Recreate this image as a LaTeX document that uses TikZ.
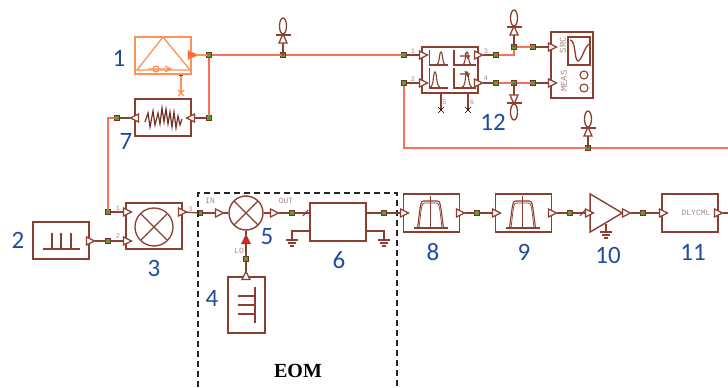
\documentclass[tikz,border=0pt]{standalone}
\usepackage{fontspec}
\setmainfont{Liberation Serif}
\newfontfamily\numfont{Carlito}
\newfontfamily\labfont{Liberation Mono}
\usetikzlibrary{shapes.geometric}
\definecolor{brn}{HTML}{8A3F30}
\definecolor{lin}{HTML}{FB6F58}
\definecolor{org}{HTML}{FB9257}
\definecolor{grn}{HTML}{5E9A35}
\definecolor{blu}{HTML}{1F4C9C}
\definecolor{lab}{HTML}{A98A86}
\tikzset{
 wire/.style={draw=brn,line width=1.3pt},
 fibre/.style={draw=lin,line width=1.7pt},
 glyph/.style={draw=brn,line width=1.1pt},
 oglyph/.style={draw=org,line width=1.3pt},
 block/.style={draw=brn,line width=1.4pt,fill=white,minimum width=56pt,minimum height=37pt,inner sep=0pt,outer sep=0pt},
 jn/.style={rectangle,draw=brn!80!black,line width=0.7pt,fill=grn,minimum size=5pt,inner sep=0pt,outer sep=0pt},
 port/.style={isosceles triangle,isosceles triangle stretches,draw=brn,line width=1.2pt,fill=white,minimum height=8pt,minimum width=8pt,inner sep=0pt,outer sep=0pt},
 num/.style={text=blu,font=\numfont\fontsize{25}{25}\selectfont,inner sep=0pt},
 tiny/.style={text=lab,font=\labfont\fontsize{7}{7}\selectfont,inner sep=0pt},
 probe/.pic={
  \draw[wire] (0,0)--(0,-12);
  \draw[wire,fill=white] (-4,-12)--(4,-12)--(0,-21)--cycle;
  \draw[wire,line width=1.8pt] (-7.5,-20)--(7.5,-20);
  \draw[wire,fill=white] (0,-29) ellipse (3.5 and 8);
 },
 xmark/.pic={\draw[#1] (-3,-3)--(3,3) (-3,3)--(3,-3);},
 xmark/.default={glyph},
 gnd/.pic={\draw[wire,line width=1.1pt] (-6,0)--(6,0) (-4,3)--(4,3) (-2,6)--(2,6);},
 filterglyph/.pic={
  \draw[glyph] (-18,15)--(16,15) (-1,-17)--(-1,15);
  \draw[glyph] (-14,15) .. controls (-11,-8) and (-11,-12) .. (-8,-12) -- (6,-12) .. controls (9,-12) and (9,-8) .. (12,15);
  \draw[glyph,line width=0.7pt] (-12.5,15) .. controls (-10,-6) and (-10,-10) .. (-7,-10) -- (5,-10) .. controls (8,-10) and (8,-6) .. (10.5,15);
 }
}
\begin{document}
\begin{tikzpicture}[x=1pt,y=-1pt]
\useasboundingbox (0,0) rectangle (728,388);
% junctions
\node[jn] (ja) at (209,55) {};
\node[jn] (jb) at (283,55) {};
\node[jn] (jc) at (209,118) {};
\node[jn] (jd) at (117,118) {};
\node[jn] (je) at (404,55) {};
\node[jn] (jf) at (404,83) {};
\node[jn] (jg) at (496,55) {};
\node[jn] (jh) at (496,83) {};
\node[jn] (ji) at (514,47) {};
\node[jn] (jj) at (533,47) {};
\node[jn] (jk) at (514,83) {};
\node[jn] (jl) at (533,83) {};
\node[jn] (jm) at (588,148) {};
\node[jn] (jn1) at (108,212) {};
\node[jn] (jn2) at (108,241) {};
\node[jn] (jo) at (200,213) {};
\node[jn] (jp) at (292,213) {};
\node[jn] (jq) at (246,259) {};
\node[jn] (jr) at (384,213) {};
\node[jn] (js) at (477,213) {};
\node[jn] (jt) at (570,213) {};
\node[jn] (ju) at (643,213) {};
\node[jn,minimum size=3pt] (jv) at (181,74) {};
\coordinate (xa) at (181,93);
\coordinate (xb) at (441,110);
\coordinate (xc) at (468,110);
\coordinate (rightend) at (728,148);
\coordinate (outend) at (728,213);
\coordinate (gl) at (292,231);
\coordinate (gr) at (384,231);
\coordinate (gampa) at (606,224);
\coordinate (gampb) at (606,232);
% fibre connectors
\draw[fibre] (ja)--(jb);
\draw[fibre] (jb)--(je);
\draw[fibre] (ja)--(jc);
\draw[fibre] (jd)-|(jn1);
\draw[fibre] (jg)-|(ji);
\draw[fibre] (ji)--(jj);
\draw[fibre] (jh)--(jk);
\draw[fibre] (jk)--(jl);
\draw[fibre] (jf)|-(jm);
\draw[fibre] (jm)--(rightend);
% probes
\pic at (jb) {probe};
\pic at (ji) {probe};
\pic at (jm) {probe};
\pic[yscale=-1] at (jk) {probe};
% EOM
\node[draw=black!85,line width=1.2pt,dashed,dash pattern=on 6pt off 4pt,minimum width=199pt,minimum height=204pt,inner sep=0pt] (eom) at (297.5,295) {};
\node[font=\bfseries\fontsize{20}{20}\selectfont,inner sep=0pt] (eomt) at (298,371) {EOM};
% blocks
\node[block,draw=org] (b1) at (163,55.5) {};
\node[block] (b7) at (163,117.5) {};
\node[block,minimum height=46pt] (b12) at (450,70) {};
\node[block,minimum width=42pt,minimum height=66pt] (b13) at (572,65) {};
\node[block] (b2) at (61,240.5) {};
\node[block,minimum height=46pt] (b3) at (154,226) {};
\node[draw=brn,line width=1.4pt,fill=white,circle,minimum size=34pt,inner sep=0pt] (b5) at (246,213) {};
\node[block,minimum height=38pt] (b6) at (338,222) {};
\node[block,minimum width=37pt,minimum height=56pt] (b4) at (246.5,305) {};
\node[block,minimum height=38pt] (b8) at (431.5,213) {};
\node[block,minimum height=38pt] (b9) at (523.5,213) {};
\node[draw=brn,line width=1.4pt,fill=white,isosceles triangle,isosceles triangle stretches,minimum height=32pt,minimum width=38pt,inner sep=0pt,outer sep=0pt] (b10) at (601,213) {};
\node[block,minimum height=38pt] (b11) at (690,213) {};
% ports
\node[port] (p7i) at (192,118) [shape border rotate=180] {};
\node[port] (p7o) at (136,118) [shape border rotate=180] {};
\node[port] (p12a) at (422,55) {};
\node[port] (p12b) at (422,83) {};
\node[port] (p12c) at (477,55) {};
\node[port] (p12d) at (477,83) {};
\node[port] (p13a) at (551,47) {};
\node[port] (p13b) at (551,83) {};
\node[port] (p2o) at (89,241) {};
\node[port] (p3a) at (126,212) {};
\node[port] (p3b) at (126,241) {};
\node[port] (p3c) at (181,212) {};
\node[port] (p5i) at (218,213) {};
\node[port] (p5o) at (273,213) {};
\node[port] (p4o) at (246,277) [shape border rotate=90] {};
\node[port,fill=red!75!orange] (p5l) at (246,241) [shape border rotate=90] {};
\node[port] (p8i) at (403,213) {};
\node[port] (p8o) at (459,213) {};
\node[port] (p9i) at (495,213) {};
\node[port] (p9o) at (551,213) {};
\node[port] (p10i) at (588,213) {};
\node[port] (p10o) at (625,213) {};
\node[port] (p11i) at (662,213) {};
\node[port] (p11o) at (717,213) {};
\node[isosceles triangle,isosceles triangle stretches,draw=org,fill=org!70!red,line width=0.8pt,minimum height=10pt,minimum width=9pt,inner sep=0pt,outer sep=0pt] (p1o) at (191,55) {};
% wires
\draw[fibre,draw=org] (p1o)--(ja);
\draw[wire] (jc)--(p7i);
\draw[wire] (jd)--(p7o);
\draw[wire] (je)--(p12a);
\draw[wire] (jf)--(p12b);
\draw[wire] (p12c)--(jg);
\draw[wire] (p12d)--(jh);
\draw[wire] (jj)--(p13a);
\draw[wire] (jl)--(p13b);
\draw[wire] (p2o)--(jn2);
\draw[wire] (jn2)--(p3b);
\draw[wire] (jn1)--(p3a);
\draw[wire] (p3c)--(jo);
\draw[wire] (jo)--(p5i);
\draw[wire] (p5i)--(b5);
\draw[wire] (b5)--(p5o);
\draw[wire] (p5o)--(jp);
\draw[wire] (jp)--(b6.west|-jp);
\draw[wire] (b6.east|-jr)--(jr);
\draw[wire] (jr)--(p8i);
\draw[wire] (p8o)--(js);
\draw[wire] (js)--(p9i);
\draw[wire] (p9o)--(jt);
\draw[wire] (jt)--(p10i);
\draw[wire] (p10o)--(ju);
\draw[wire] (ju)--(p11i);
\draw[wire] (p11o)--(outend);
\draw[wire] (p4o)--(jq);
\draw[wire] (jq)--(p5l);
\draw[wire] (p5l)--(b5);
\draw[wire] (b6.west|-gl)--(gl)--++(0,8);
\draw[wire] (b6.east|-gr)--(gr)--++(0,8);
\draw[wire] (gampa)--(gampb);
\draw[oglyph] (jv)--(xa);
\draw[wire] (b12.south-|xb)--(xb);
\draw[wire] (b12.south-|xc)--(xc);
\pic at (xa) {xmark={oglyph}};
\pic at (xb) {xmark};
\pic at (xc) {xmark};
\pic at (292,240) {gnd};
\pic at (384,240) {gnd};
\pic at (gampb) {gnd};
\draw[glyph] (303,216)--(308,210);
\draw[glyph] (580,216)--(585,210);
% block 1 inner
\draw[oglyph] (137,70)--(163,37)--(190,70) (135,70)--(191,70);
\draw[oglyph] (156,69) circle (3) (148,69)--(172,69) (165,66)--(171,69)--(165,72);
% block 7 zigzag
\draw[draw=brn!80!black,line width=1.2pt] (145,122)--(148,113)--(150,127)--(153,111)--(155,125)--(158,113)--(160,124)--(162,108)--(164,122)--(166,109)--(168,124)--(170,112)--(172,127)--(174,112)--(176,128)--(178,116)--(180,125)--(182,119);
% block 12 inner
\draw[glyph] (429.5,50)--(429.5,65)--(448,65) (429.5,68)--(429.5,88)--(448,88) (454,50)--(454,65)--(476,65) (454,68)--(454,88)--(476,88);
\draw[glyph] (436,65) .. controls (440,65) and (439,52) .. (441,52) .. controls (443,52) and (442,65) .. (446,65);
\draw[glyph] (430,87) .. controls (434,87) and (433,72) .. (435,72) .. controls (437,72) and (436,87) .. (440,87);
\draw[glyph] (462,65) .. controls (466,65) and (465,52) .. (467,52) .. controls (469,52) and (468,65) .. (472,65);
\draw[glyph] (462,87) .. controls (466,87) and (465,72) .. (467,72) .. controls (469,72) and (468,87) .. (472,87);
\draw[glyph] (460,56)--(470,56) (465,53)--(468,59) (460,74)--(470,74) (465,71)--(468,77);
\foreach \t/\x/\y in {1/413/51,2/413/79,3/486/51,4/486/78,5/444.5/102,6/472/102,1/118/208,2/118/236,3/190.5/209}{
 \node[tiny] at (\x,\y) {\t};
}
% scope
\draw[glyph,line width=1.3pt] (568,37) rectangle (590,65);
\draw[glyph,line width=1.3pt] (570,40) .. controls (576,40) and (574,60) .. (578,61) .. controls (582,60) and (584,48) .. (589,44);
\draw[glyph] (584,75) circle (4) (584,88) circle (4);
\node[tiny,rotate=90,font=\labfont\fontsize{9}{9}\selectfont] (srct) at (563,45) {SRC};
\node[tiny,rotate=90,font=\labfont\fontsize{9}{9}\selectfont] (meast) at (564,81) {MEAS};
% block 2
\draw[glyph] (43,249)--(80,249) (52,234)--(52,249) (61,234)--(61,249) (71,234)--(71,249);
\fill[brn] (52,234) circle (1.4) (61,234) circle (1.4) (71,234) circle (1.4);
% block 3, 5
\draw[wire] (154,227) circle (19);
\draw[wire] (141,214)--(167,240) (141,240)--(167,214);
\draw[wire] (234,201)--(258,225) (234,225)--(258,201);
% block 4
\draw[glyph] (255,287)--(255,323) (239,296)--(255,296) (239,305)--(255,305) (239,314)--(255,314);
\fill[brn] (239,296) circle (1.4) (239,305) circle (1.4) (239,314) circle (1.4);
% labels
\node[tiny,font=\labfont\fontsize{8}{8}\selectfont] (tin) at (210,201) {IN};
\node[tiny,font=\labfont\fontsize{8}{8}\selectfont] (tout) at (286,201) {OUT};
\node[tiny,font=\labfont\fontsize{8}{8}\selectfont] (tlo) at (239,251) {LO};
\node[tiny,font=\labfont\fontsize{8}{8}\selectfont] (tdly) at (696,213) {DLYCML};
\pic at (431.5,213) {filterglyph};
\pic at (523.5,213) {filterglyph};
% numbers
\node[num] (n1) at (119,58) {1};
\node[num] (n2) at (18,240) {2};
\node[num] (n3) at (154,268) {3};
\node[num] (n4) at (212,298) {4};
\node[num] (n5) at (267,237) {5};
\node[num] (n6) at (339,260) {6};
\node[num] (n7) at (126,141) {7};
\node[num] (n8) at (433,252) {8};
\node[num] (n9) at (524,252) {9};
\node[num] (n10) at (608,255) {10};
\node[num] (n11) at (693,252) {11};
\node[num] (n12) at (493,122) {12};
\end{tikzpicture}
\end{document}
